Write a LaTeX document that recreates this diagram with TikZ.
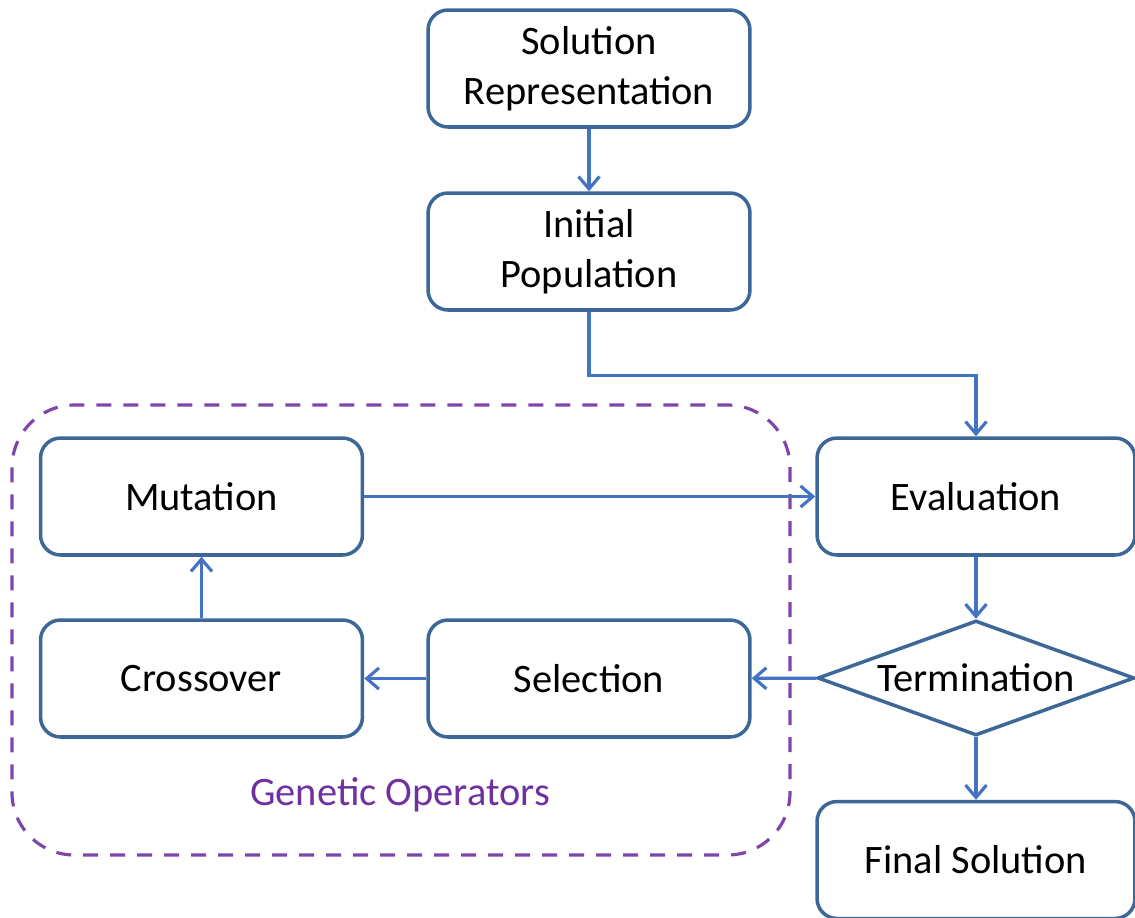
\documentclass[tikz,border=0pt]{standalone}
\usepackage{fontspec}
\setmainfont{Carlito}
\usepackage{tikz}
\usetikzlibrary{arrows.meta,positioning,shapes.geometric}
\definecolor{boxblue}{HTML}{3C6796}
\definecolor{lineblue}{HTML}{4472C4}
\definecolor{gopurple}{HTML}{7030A0}

\begin{document}
\begin{tikzpicture}[x=0.02cm,y=-0.02cm,
    blk/.style={rectangle,rounded corners=0.4cm,draw=boxblue,line width=2pt,fill=white,
      minimum width=6.44cm,minimum height=2.34cm,inner sep=0pt,align=center,
      font=\fontsize{23}{28.5}\selectfont},
    dec/.style={diamond,draw=boxblue,line width=2pt,fill=white,inner sep=0pt,
      minimum width=6.34cm,minimum height=2.3cm,font=\fontsize{23}{28.5}\selectfont},
    flow/.style={-{Straight Barb[length=7pt,width=12pt]},lineblue,line width=1.8pt}]
  \useasboundingbox (0,0) rectangle (1135,917);
  % genetic operators frame
  \draw[gopurple!90,line width=1.8pt,dash pattern=on 0.3cm off 0.24cm,rounded corners=1.25cm]
    (12,405) rectangle (790,855);
  \node[font=\fontsize{23}{28.5}\selectfont,text=gopurple] (golab) at (400,795) {Genetic Operators};
  % main flow
  \node[blk] (sol) at (589,68.5) {Solution\\Representation};
  \node[blk] (init) at (589,251.5) {Initial\\Population};
  \node[blk,minimum width=6.36cm] (eval) at (976,496.5) {Evaluation};
  \node[dec] (term) at (976,678) {\makebox[0pt]{Termination}};
  \node[blk,minimum width=6.36cm] (final) at (976,860) {Final Solution};
  \node[blk] (mut) at (201.5,496.5) {Mutation};
  \node[blk] (cross) at (201.5,678.5) {Crossover};
  \node[blk] (sel) at (589,678.5) {Selection};
  \draw[flow] (sol) -- (init);
  \draw[flow] (init.south) -- ++(0,64) -| (eval.north);
  \draw[flow] (mut) -- (eval);
  \draw[flow] (eval) -- (term);
  \draw[flow] (term) -- (final);
  \draw[flow] (term) -- (sel);
  \draw[flow] (sel) -- (cross);
  \draw[flow] (cross) -- (mut);
\end{tikzpicture}
\end{document}
